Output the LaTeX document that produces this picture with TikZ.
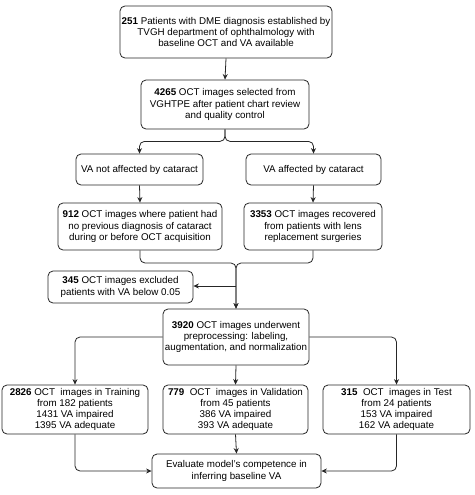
\documentclass[tikz,border=0pt]{standalone}
\usepackage{fontspec}
\setmainfont{Liberation Sans}
\usetikzlibrary{arrows.meta}
\begin{document}
\begin{tikzpicture}[x=1pt,y=-1pt,
  box/.style={draw=black!85, line width=0.8pt, rounded corners=5pt, align=center, inner sep=0pt,
    font=\fontsize{9.8}{11.2}\selectfont},
  conn/.style={draw=black!85, line width=0.8pt, rounded corners=5pt, -{Stealth[length=5.5pt,width=5pt]}},
  plain/.style={draw=black!85, line width=0.8pt, rounded corners=5pt}]
\useasboundingbox[fill=white] (0,0) rectangle (474,495);
\node[box, minimum width=212pt, minimum height=52pt] (b1) at (226,32)
  {\textbf{251} Patients with DME diagnosis established by\\TVGH department of ophthalmology with\\baseline OCT and VA available};
\node[box, minimum width=168pt, minimum height=49pt] (b2) at (225,104.5)
  {\textbf{4265} OCT images selected from\\VGHTPE after patient chart review\\and quality control};
\node[box, minimum width=127pt, minimum height=31pt] (b3) at (139.5,169.5)
  {VA not affected by cataract};
\node[box, minimum width=135pt, minimum height=31pt] (b4) at (313.5,169.5)
  {VA affected by cataract};
\node[box, minimum width=164pt, minimum height=47pt] (b5) at (140,226.5)
  {\textbf{912} OCT images where patient had\\no previous diagnosis of cataract\\during or before OCT acquisition};
\node[box, minimum width=138pt, minimum height=47pt] (b6) at (313,226.5)
  {\textbf{3353} OCT images recovered\\from patients with lens\\replacement surgeries};
\node[box, minimum width=145pt, minimum height=32pt] (b8) at (120.5,287)
  {\textbf{345} OCT images excluded\\patients with VA below 0.05};
\node[box, minimum width=146pt, minimum height=56pt] (b7) at (236,337)
  {\textbf{3920} OCT images underwent\\preprocessing: labeling,\\augmentation, and normalization};
\node[box, minimum width=146pt, minimum height=49pt] (btr) at (75,409.5)
  {\textbf{2826} OCT\ \ images in Training\\from 182 patients\\1431 VA impaired\\1395 VA adequate};
\node[box, minimum width=145pt, minimum height=49pt] (bva) at (235.5,409.5)
  {\textbf{779} \ OCT\ \ images in Validation\\from 45 patients\\386 VA impaired\\393 VA adequate};
\node[box, minimum width=147pt, minimum height=49pt] (bte) at (396.5,409.5)
  {\textbf{315} \ OCT\ \ images in Test\\from 24 patients\\153 VA impaired\\162 VA adequate};
\node[box, minimum width=169pt, minimum height=34pt] (bev) at (236.5,471)
  {Evaluate model's competence in\\inferring baseline VA};

\coordinate (m) at (236,263);
\coordinate (s) at (236,286);

\draw[conn] (b1.south) -- (b2.north);
\draw[conn] (b2.south) -- ++(0,12) -| (b3.north);
\draw[conn] (b2.south) -- ++(0,12) -| (b4.north);
\draw[conn] (b3.south) -- (b5.north);
\draw[conn] (b4.south) -- (b6.north);
\draw[conn] (b5.south) |- (m) -- (b7.north);
\draw[conn] (b6.south) |- (m) -- (b7.north);
\draw[conn] (s) -- (s -| b8.east);
\draw[conn] (b7.west) -| (btr.north);
\draw[conn] (b7.east) -| (bte.north);
\draw[conn] (b7.south) -- (bva.north);
\draw[conn] (btr.south) |- (bev.west);
\draw[conn] (bte.south) |- (bev.east);
\draw[conn] (bva.south) -- (bev.north);
\end{tikzpicture}
\end{document}
